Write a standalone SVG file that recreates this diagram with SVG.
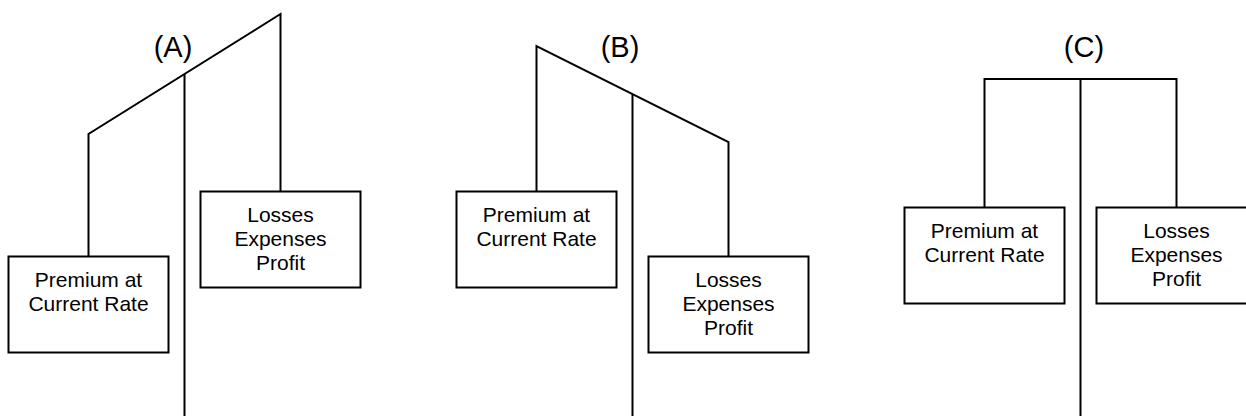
<svg xmlns="http://www.w3.org/2000/svg" width="1246" height="416" viewBox="0 0 1246 416">
  <style>
    .ln { fill: none; stroke: #000; stroke-width: 2; stroke-linejoin: miter; }
    .box { fill: #fff; stroke: #000; stroke-width: 2; }
    .t { font-family: "Liberation Sans", Arial, sans-serif; font-size: 21px; fill: #000; text-anchor: middle; }
    .lbl { font-family: "Liberation Sans", Arial, sans-serif; font-size: 29px; fill: #000; text-anchor: middle; }
  </style>
  <rect width="1246" height="416" fill="#fff"/>
  <g id="connectors">
    <polyline class="ln" points="88.5,256.5 88.5,134 280.5,14 280.5,191.5"/>
    <line class="ln" x1="184.5" y1="74" x2="184.5" y2="416"/>
    <polyline class="ln" points="536.5,191.5 536.5,46 728.5,142 728.5,256.5"/>
    <line class="ln" x1="632.5" y1="94" x2="632.5" y2="416"/>
    <polyline class="ln" points="984.5,207.5 984.5,79 1176.5,79 1176.5,207.5"/>
    <line class="ln" x1="1080.5" y1="79" x2="1080.5" y2="416"/>
  </g>
  <g id="labels">
    <text class="lbl" x="173" y="57">(A)</text>
    <text class="lbl" x="620" y="57">(B)</text>
    <text class="lbl" x="1084" y="57">(C)</text>
  </g>
  <g id="A-premium">
    <rect class="box" x="8.5" y="256.5" width="160" height="96"/>
    <text class="t" x="88.5" y="287">Premium at</text>
    <text class="t" x="88.5" y="311">Current Rate</text>
  </g>
  <g id="A-losses">
    <rect class="box" x="200.5" y="191.5" width="160" height="96"/>
    <text class="t" x="280.5" y="222">Losses</text>
    <text class="t" x="280.5" y="246">Expenses</text>
    <text class="t" x="280.5" y="270">Profit</text>
  </g>
  <g id="B-premium">
    <rect class="box" x="456.5" y="191.5" width="160" height="96"/>
    <text class="t" x="536.5" y="222">Premium at</text>
    <text class="t" x="536.5" y="246">Current Rate</text>
  </g>
  <g id="B-losses">
    <rect class="box" x="648.5" y="256.5" width="160" height="96"/>
    <text class="t" x="728.5" y="287">Losses</text>
    <text class="t" x="728.5" y="311">Expenses</text>
    <text class="t" x="728.5" y="335">Profit</text>
  </g>
  <g id="C-premium">
    <rect class="box" x="904.5" y="207.5" width="160" height="96"/>
    <text class="t" x="984.5" y="238">Premium at</text>
    <text class="t" x="984.5" y="262">Current Rate</text>
  </g>
  <g id="C-losses">
    <rect class="box" x="1096.5" y="207.5" width="160" height="96"/>
    <text class="t" x="1176.5" y="238">Losses</text>
    <text class="t" x="1176.5" y="262">Expenses</text>
    <text class="t" x="1176.5" y="286">Profit</text>
  </g>
</svg>
